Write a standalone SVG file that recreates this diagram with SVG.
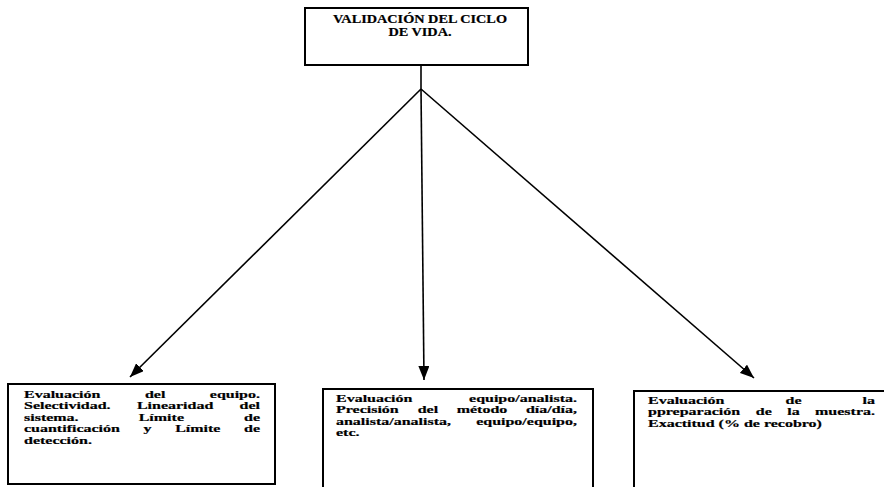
<svg xmlns="http://www.w3.org/2000/svg" width="884" height="487" viewBox="0 0 884 487">
<style>
.box{fill:#fff;stroke:#000;stroke-width:2}
.ln{fill:none;stroke:#000;stroke-width:1.6}
.t{font-family:"Liberation Serif","Times New Roman",serif;font-weight:bold;font-size:11px;fill:#000;stroke:#000;stroke-width:0.2}
.h{font-family:"Liberation Serif","Times New Roman",serif;font-weight:bold;font-size:12px;fill:#000;stroke:#000;stroke-width:0.2;text-anchor:middle}
.e{text-anchor:end}
</style>
<defs>
<marker id="ah" viewBox="0 0 14 11" refX="14" refY="5.5" markerWidth="14" markerHeight="11" markerUnits="userSpaceOnUse" orient="auto">
<path d="M0,0 L14,5.5 L0,11 Z" fill="#000"/>
</marker>
</defs>
<g id="connectors">
<line class="ln" x1="421" y1="65" x2="421" y2="89"/>
<line class="ln" x1="421" y1="89" x2="130" y2="377" marker-end="url(#ah)"/>
<line class="ln" x1="421" y1="89" x2="424" y2="380" marker-end="url(#ah)"/>
<line class="ln" x1="421" y1="89" x2="754" y2="378" marker-end="url(#ah)"/>
</g>
<g id="top">
<rect class="box" x="305" y="8" width="223" height="57"/>
<g transform="scale(1.19,1)">
<text class="h" x="352.9" y="23">VALIDACIÓN DEL CICLO</text>
<text class="h" x="352.9" y="36">DE VIDA.</text>
</g>
</g>
<g id="left">
<rect class="box" x="8" y="384" width="267" height="100"/>
<g transform="scale(1.4545,1)">
<text class="t" y="398"><tspan x="16.5">Evaluación</tspan><tspan x="99.66">del</tspan></text>
<text class="t e" x="178.76" y="398">equipo.</text>
<text class="t" y="409.5"><tspan x="16.5">Selectividad.</tspan><tspan x="94.12">Linearidad</tspan></text>
<text class="t e" x="178.76" y="409.5">del</text>
<text class="t" y="421"><tspan x="16.5">sistema.</tspan><tspan x="95.36">Límite</tspan></text>
<text class="t e" x="178.76" y="421">de</text>
<text class="t" y="432.5"><tspan x="16.5">cuantificación</tspan><tspan x="98.71">y</tspan><tspan x="120.41">Límite</tspan></text>
<text class="t e" x="178.76" y="432.5">de</text>
<text class="t" x="16.5" y="444">detección.</text>
</g>
</g>
<g id="middle">
<rect class="box" x="323" y="389" width="270" height="110"/>
<g transform="scale(1.4545,1)">
<text class="t" x="231" y="402">Evaluación</text>
<text class="t e" x="396.7" y="402">equipo/analista.</text>
<text class="t" y="413.5"><tspan x="231">Precisión</tspan><tspan x="287.18">del</tspan><tspan x="313.99">método</tspan></text>
<text class="t e" x="396.7" y="413.5">día/día,</text>
<text class="t" x="231" y="425">analista/analista,</text>
<text class="t e" x="396.7" y="425">equipo/equipo,</text>
<text class="t" x="231" y="436.5">etc.</text>
</g>
</g>
<g id="right">
<rect class="box" x="634" y="391" width="260" height="110"/>
<g transform="scale(1.4545,1)">
<text class="t" y="404"><tspan x="445.52">Evaluación</tspan><tspan x="540.12">de</tspan></text>
<text class="t e" x="601.58" y="404">la</text>
<text class="t" y="415.5"><tspan x="445.52">ppreparación</tspan><tspan x="519.63">de</tspan><tspan x="541.22">la</tspan></text>
<text class="t e" x="601.58" y="415.5">muestra.</text>
<text class="t" x="445.52" y="427">Exactitud (% de recobro)</text>
</g>
</g>
</svg>
